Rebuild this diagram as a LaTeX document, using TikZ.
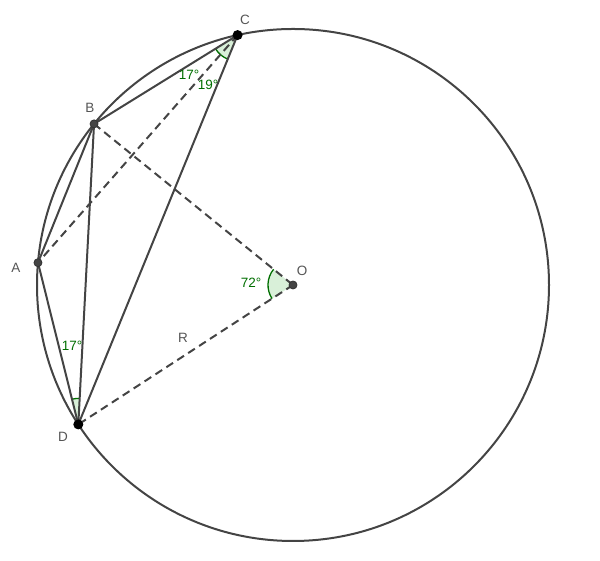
\documentclass[tikz,border=0pt]{standalone}
\usepackage{fontspec}
\setmainfont{Liberation Sans}
\usetikzlibrary{calc}
\definecolor{ln}{HTML}{444444}
\definecolor{lab}{HTML}{555555}
\definecolor{ag}{RGB}{0,110,0}
\tikzset{
  seg/.style={draw=ln, line width=2pt},
  dseg/.style={draw=ln, line width=2pt, dash pattern=on 8pt off 5pt},
  pt/.style={circle, fill=ln, draw=black!80, line width=0.8pt, inner sep=0pt, minimum size=8pt},
  bigpt/.style={circle, fill=black, inner sep=0pt, minimum size=10pt},
  plab/.style={text=lab, font=\fontsize{13.5}{15}\selectfont, inner sep=0pt},
  alab/.style={text=ag, font=\fontsize{13.5}{15}\selectfont, inner sep=0pt},
  angfill/.style={fill=green!60!black, fill opacity=0.15},
  angline/.style={draw=ag, line width=1.3pt}
}
\begin{document}
\begin{tikzpicture}[x=1pt,y=1pt]
\useasboundingbox (0,0) rectangle (600,561);
\coordinate (O) at (293,276);
\coordinate (C) at ($(O)+(102.5:256pt)$);
\coordinate (B) at ($(O)+(141:256pt)$);
\coordinate (A) at ($(O)+(175:256pt)$);
\coordinate (D) at ($(O)+(213:256pt)$);
% angle sectors
\fill[angfill] (C) -- ++(211.75:26pt) arc[start angle=211.75,end angle=228.75,radius=26pt] -- cycle;
\fill[angfill] (C) -- ++(228.75:26pt) arc[start angle=228.75,end angle=247.74,radius=26pt] -- cycle;
\draw[angline] ($(C)+(211.75:26pt)$) arc[start angle=211.75,end angle=247.74,radius=26pt];
\fill[angfill] (D) -- ++(87:26pt) arc[start angle=87,end angle=104,radius=26pt] -- cycle;
\draw[angline] ($(D)+(87:26pt)$) arc[start angle=87,end angle=104,radius=26pt];
\fill[angfill] (O) -- ++(141:25pt) arc[start angle=141,end angle=213,radius=25pt] -- cycle;
\draw[angline] ($(O)+(141:25pt)$) arc[start angle=141,end angle=213,radius=25pt];
% circle
\draw[seg] (O) circle[radius=256pt];
% segments
\draw[seg] (C) -- (B);
\draw[seg] (C) -- (D);
\draw[seg] (B) -- (A);
\draw[seg] (B) -- (D);
\draw[seg] (A) -- (D);
\draw[dseg] (C) -- (A);
\draw[dseg] (B) -- (O);
\draw[dseg] (O) -- (D);
% points
\node[bigpt] (nC) at (C) {};
\node[bigpt] (nD) at (D) {};
\node[pt] (nB) at (B) {};
\node[pt] (nA) at (A) {};
\node[pt] (nO) at (O) {};
% labels
\node[plab] (lC) at (245,541) {C};
\node[plab] (lB) at (90,453) {B};
\node[plab] (lA) at (16,293) {A};
\node[plab] (lD) at (63,124) {D};
\node[plab] (lO) at (302,290) {O};
\node[plab] (lR) at (183,223) {R};
\node[alab] (a1) at (189,486) {17°};
\node[alab] (a2) at (208,476) {19°};
\node[alab] (a3) at (72,215) {17°};
\node[alab] (a4) at (251,278) {72°};
\end{tikzpicture}
\end{document}
